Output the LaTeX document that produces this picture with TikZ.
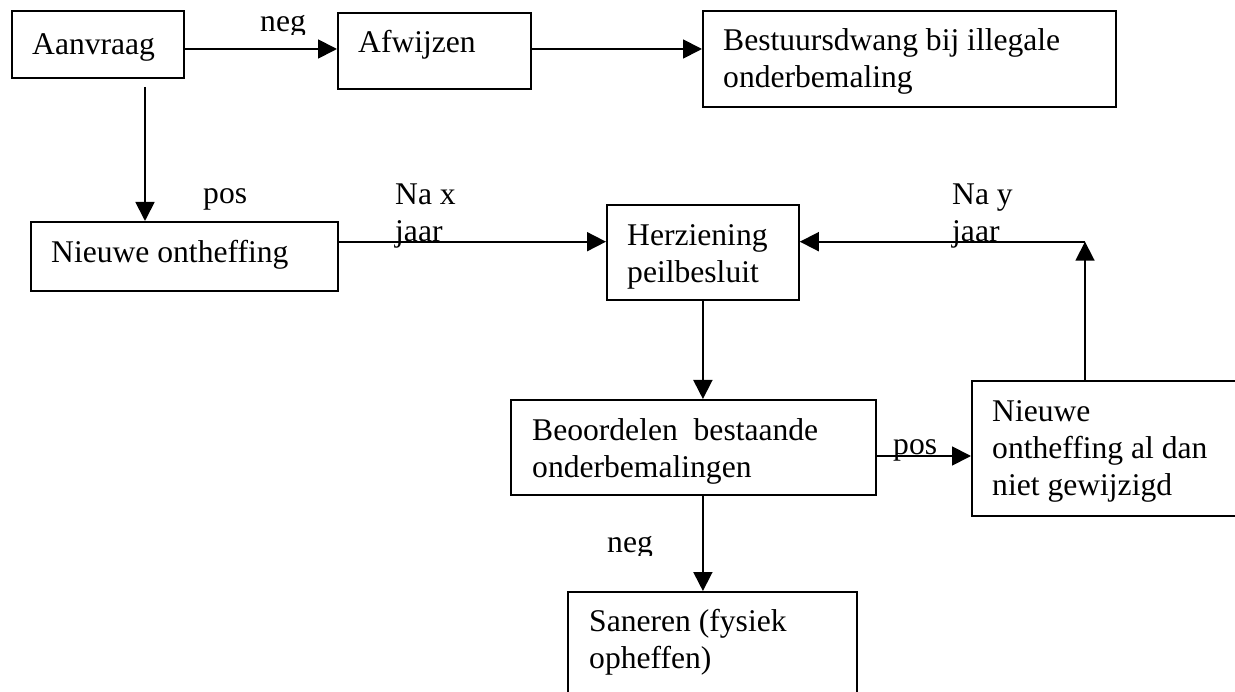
\documentclass[tikz,border=0pt]{standalone}
\usepackage{fontspec}
\setmainfont{Liberation Serif}
\usetikzlibrary{arrows.meta}
\begin{document}
\begin{tikzpicture}[x=1pt,y=-1pt,
  box/.style={draw, line width=1.8pt, rectangle, inner sep=0pt, anchor=north west},
  txt/.style={anchor=base west, inner sep=0pt, align=left, font=\fontsize{31.6}{37}\selectfont},
  arr/.style={line width=1.8pt, -{Triangle[length=19pt,width=19pt]}}]
\clip (0,0) rectangle (1235,692);
% boxes
\node[box, minimum width=172pt, minimum height=67pt] (aan) at (10.7,10) {};
\node[box, minimum width=193pt, minimum height=76pt] (afw) at (337,12) {};
\node[box, minimum width=413pt, minimum height=96pt] (bes) at (702,10) {};
\node[box, minimum width=307pt, minimum height=69pt] (nieuw) at (30,221) {};
\node[box, minimum width=192pt, minimum height=95pt] (herz) at (606,204) {};
\node[box, minimum width=365pt, minimum height=95pt] (beo) at (510,399) {};
\node[box, minimum width=280pt, minimum height=135pt] (nb) at (971,380) {};
\node[box, minimum width=289pt, minimum height=130pt] (san) at (567,591) {};
% texts (base anchor = baseline of the last line)
\node[txt] (taan) at (32,55) {Aanvraag};
\node[txt] (tafw) at (358,53) {Afwijzen};
\node[txt] (tbes) at (723,88) {Bestuursdwang bij illegale\\onderbemaling};
\node[txt] (tnieuw) at (51,263) {Nieuwe ontheffing};
\node[txt] (therz) at (627,283) {Herziening\\peilbesluit};
\node[txt] (tbeo) at (532,478) {Beoordelen\ \ bestaande\\onderbemalingen};
\node[txt] (tnb) at (992,496) {Nieuwe\\ontheffing al dan\\niet gewijzigd};
\node[txt] (tsan) at (589,668) {Saneren (fysiek\\opheffen)};
% labels
\begin{scope}
\clip (240,0) rectangle (330,35);
\node[txt] (lneg1) at (260,32) {neg};
\end{scope}
\node[txt] (lpos1) at (203,204) {pos};
\node[txt] (lnax) at (395,242) {Na x\\jaar};
\node[txt] (lnay) at (952,242) {Na y\\jaar};
\node[txt] (lpos2) at (893,455) {pos};
\begin{scope}
\clip (590,520) rectangle (670,555);
\node[txt] (lneg2) at (607,552) {neg};
\end{scope}
% connectors
\coordinate (s1) at (145,87);
\coordinate (corner) at (1085,241.7);
\draw[arr] (aan.east |- 0,49) -- (afw.west |- 0,49);
\draw[arr] (afw.east |- 0,49) -- (bes.west |- 0,49);
\draw[arr] (s1) -- (s1 |- nieuw.north);
\draw[arr] (nieuw.east |- corner) -- (herz.west |- corner);
\draw[arr] (nb.north -| corner) -- (corner);
\draw[arr] (corner) -- (corner -| herz.east);
\draw[arr] (herz.south) -- (herz.south |- beo.north);
\draw[arr] (beo.east |- 0,456) -- (nb.west |- 0,456);
\draw[arr] (beo.south -| herz.south) -- (san.north -| herz.south);
\end{tikzpicture}
\end{document}
